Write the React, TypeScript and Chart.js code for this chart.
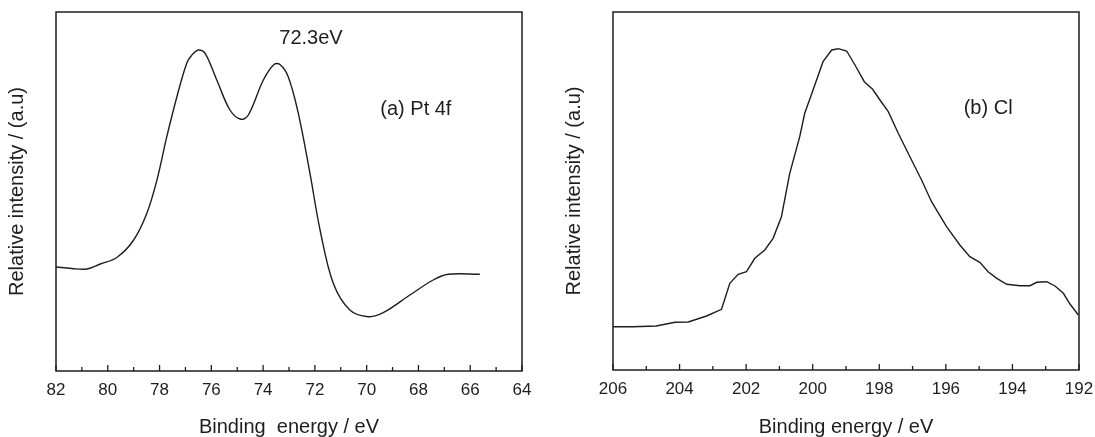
import React, { useEffect, useRef } from 'react';
import { Chart, registerables } from 'chart.js';

Chart.register(...registerables);

// ---- Data: (a) Pt 4f ----
const ptEnergy = [82.0, 81.4, 80.8, 80.29, 79.65, 79.0, 78.49, 78.1, 77.72, 77.33, 76.95, 76.75, 76.5, 76.24, 75.79, 75.28, 74.86, 74.57, 73.99, 73.58, 73.35, 73.03, 72.64, 72.19, 71.8, 71.29, 70.65, 69.94, 69.36, 68.33, 67.43, 66.85, 65.63];
const ptIntensity = [104, 102.5, 102, 107, 113.5, 131, 157.7, 191, 234.3, 274.3, 307.7, 316, 321, 317.7, 291, 261, 251.7, 256, 291, 306.5, 306.5, 294.3, 257.7, 197.7, 141, 87.7, 61, 54.3, 58.3, 76, 91, 96.7, 96.7];
const ptTickLabels = [82, 80, 78, 76, 74, 72, 70, 68, 66, 64];

// ---- Data: (b) Cl ----
const clEnergy = [206.0, 205.4, 204.7, 204.14, 203.74, 203.19, 202.74, 202.49, 202.24, 201.99, 201.74, 201.44, 201.19, 200.94, 200.69, 200.39, 200.24, 199.99, 199.69, 199.43, 199.23, 198.98, 198.73, 198.45, 198.2, 197.98, 197.73, 197.43, 197.08, 196.73, 196.43, 195.98, 195.58, 195.28, 194.98, 194.73, 194.47, 194.17, 193.77, 193.47, 193.27, 192.97, 192.72, 192.47, 192.27, 192.02];
const clIntensity = [43.3, 43.3, 44, 47.7, 48, 54, 60.7, 86.7, 95.7, 98.3, 111.7, 120, 131.7, 153.3, 196.7, 233.3, 256.7, 280, 308.3, 320, 321.3, 319, 305, 288.3, 280.7, 270, 258.3, 236.7, 213.3, 190, 168.3, 143.3, 125, 113.3, 107.7, 98.3, 91.7, 85.7, 84.3, 84.3, 87.7, 88.3, 84, 76.7, 66, 55];
const clTickLabels = [206, 204, 202, 200, 198, 196, 194, 192];

// ---- Text ----
const yTitle = 'Relative intensity / (a.u)';
const ptXTitle = 'Binding  energy / eV';
const clXTitle = 'Binding energy / eV';
const ptNotes = [
  { text: '72.3eV', x: 72.15, y: 332.5 },
  { text: '(a) Pt 4f', x: 68.1, y: 262 },
];
const clNotes = [{ text: '(b) Cl', x: 194.73, y: 262 }];

const FONT = '"Liberation Sans", Arial, Helvetica, sans-serif';
const INK = '#1e1e1e';

const framePlugin = {
  id: 'frameTicks',
  afterDatasetsDraw(chart: any, _args: any, opts: any) {
    const { ctx, chartArea: a, scales } = chart;
    const x = scales.x;
    const y = scales.y;
    ctx.save();
    ctx.strokeStyle = INK;
    ctx.lineWidth = 1.5;
    ctx.strokeRect(a.left, a.top, a.right - a.left, a.bottom - a.top);
    ctx.lineWidth = 1.3;
    for (let v = opts.min; v <= opts.max; v += 1) {
      const px = x.getPixelForValue(v);
      const len = v % 2 === 0 ? 6 : 4;
      ctx.beginPath();
      ctx.moveTo(px, a.bottom);
      ctx.lineTo(px, a.bottom - len);
      ctx.stroke();
    }
    ctx.fillStyle = INK;
    ctx.font = '20px ' + FONT;
    ctx.textAlign = 'center';
    ctx.textBaseline = 'middle';
    for (const n of opts.notes) {
      ctx.fillText(n.text, x.getPixelForValue(n.x), y.getPixelForValue(n.y));
    }
    ctx.restore();
  },
};

type PanelProps = {
  left: number;
  energy: number[];
  intensity: number[];
  xMin: number;
  xMax: number;
  yMax: number;
  tickLabels: number[];
  xTitle: string;
  notes: { text: string; x: number; y: number }[];
  smooth: boolean;
  bottomH: number;
};

function Panel(p: PanelProps) {
  const ref = useRef<HTMLCanvasElement | null>(null);
  useEffect(() => {
    if (!ref.current) return;
    const chart = new Chart(ref.current, {
      type: 'line',
      data: {
        datasets: [
          {
            data: p.energy.map((e, i) => ({ x: e, y: p.intensity[i] })),
            borderColor: INK,
            borderWidth: 1.4,
            pointRadius: 0,
            fill: false,
            tension: p.smooth ? 0.35 : 0,
          } as any,
        ],
      },
      options: {
        animation: false,
        responsive: false,
        maintainAspectRatio: false,
        layout: { padding: { top: 12, right: 16, left: 0, bottom: 0 } },
        plugins: {
          legend: { display: false },
          tooltip: { enabled: false },
          frameTicks: { min: p.xMin, max: p.xMax, notes: p.notes },
        } as any,
        scales: {
          x: {
            type: 'linear',
            min: p.xMin,
            max: p.xMax,
            reverse: true,
            afterFit: (s: any) => {
              s.height = p.bottomH;
              s.paddingLeft = 0;
              s.paddingRight = 0;
            },
            afterBuildTicks: (s: any) => {
              s.ticks = p.tickLabels.map((v) => ({ value: v }));
            },
            grid: { display: false, drawTicks: false },
            border: { display: false },
            ticks: {
              autoSkip: false,
              maxRotation: 0,
              padding: 9,
              color: INK,
              font: { family: FONT, size: 17 },
              callback: (v: any) => String(v),
            },
            title: {
              display: true,
              text: p.xTitle,
              color: INK,
              font: { family: FONT, size: 20, lineHeight: 1.0 },
              padding: { top: 0, bottom: 0 },
            },
          },
          y: {
            type: 'linear',
            min: 0,
            max: p.yMax,
            afterFit: (s: any) => {
              s.width = 56;
              s.paddingTop = 0;
              s.paddingBottom = 0;
            },
            grid: { display: false, drawTicks: false },
            border: { display: false },
            ticks: { display: false },
            title: {
              display: true,
              text: yTitle,
              color: INK,
              font: { family: FONT, size: 20, lineHeight: 1.1 },
              padding: { top: 6, bottom: 0 },
            },
          },
        },
      } as any,
      plugins: [framePlugin],
    });
    return () => chart.destroy();
  }, []);
  return (
    <canvas
      ref={ref}
      width={538}
      height={437}
      style={{ position: 'absolute', left: p.left, top: 0, width: 538, height: 437 }}
    />
  );
}

export default function App() {
  return (
    <div style={{ position: 'absolute', left: 0, top: 0, width: 1095, height: 437, background: '#fff', overflow: 'hidden' }}>
      <Panel
        left={0}
        energy={ptEnergy}
        intensity={ptIntensity}
        xMin={64}
        xMax={82}
        yMax={359}
        tickLabels={ptTickLabels}
        xTitle={ptXTitle}
        notes={ptNotes}
        smooth={true}
        bottomH={66}
      />
      <Panel
        left={557}
        energy={clEnergy}
        intensity={clIntensity}
        xMin={192}
        xMax={206}
        yMax={358}
        tickLabels={clTickLabels}
        xTitle={clXTitle}
        notes={clNotes}
        smooth={false}
        bottomH={67}
      />
    </div>
  );
}
